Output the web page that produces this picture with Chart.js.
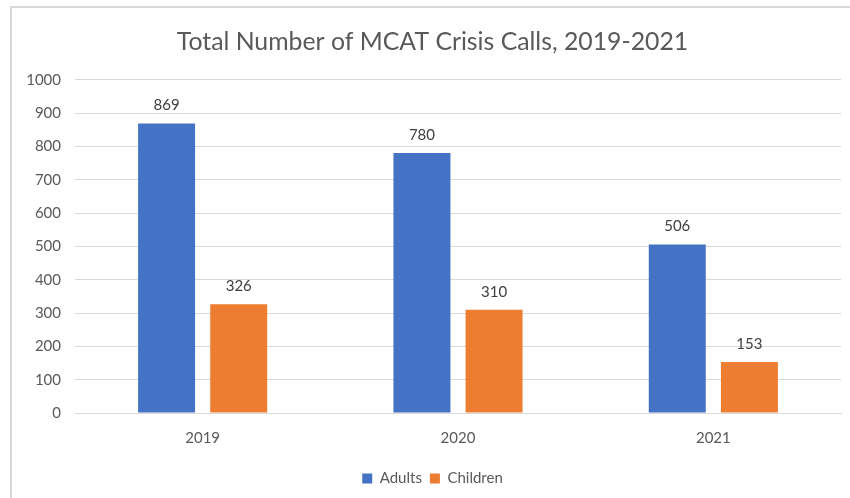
<!DOCTYPE html>
<html>
<head>
<meta charset="utf-8">
<script src="https://cdn.jsdelivr.net/npm/chart.js@4"></script>
<style>
  html, body { margin: 0; padding: 0; background: #fff; }
  #wrap { width: 850px; height: 498px; }
</style>
</head>
<body>
<div id="wrap"><canvas id="calls" width="850" height="498"></canvas></div>
<script>
// valores
const years = ['2019', '2020', '2021'];
const adults = [869, 780, 506];
const children = [326, 310, 153];

const FONT = 'Lato, "Open Sans", sans-serif';
const GRAY = '#595959';

// etiquetas encima de cada barra
const barLabels = {
  id: 'barLabels',
  afterDatasetsDraw(chart) {
    const ctx = chart.ctx;
    ctx.save();
    ctx.font = '15px ' + FONT;
    ctx.fillStyle = '#404040';
    ctx.textAlign = 'center';
    ctx.textBaseline = 'middle';
    chart.data.datasets.forEach((ds, i) => {
      chart.getDatasetMeta(i).data.forEach((bar, j) => {
        ctx.fillText(ds.data[j], bar.x, bar.y - 18);
      });
    });
    ctx.restore();
  }
};

// marco gris del área del gráfico
const frame = {
  id: 'frame',
  beforeDraw(chart) {
    const ctx = chart.ctx;
    ctx.save();
    ctx.strokeStyle = '#d9d9d9';
    ctx.lineWidth = 2;
    ctx.strokeRect(11, 7, 860, 520);
    ctx.restore();
  }
};

new Chart(document.getElementById('calls'), {
  type: 'bar',
  data: {
    labels: years,
    datasets: [
      { label: 'Adults', data: adults, backgroundColor: '#4472c4' },
      { label: 'Children', data: children, backgroundColor: '#ed7d31' }
    ]
  },
  options: {
    responsive: false,
    animation: false,
    categoryPercentage: 0.565,
    barPercentage: 0.79,
    layout: { padding: { top: 21, right: 9, bottom: 2, left: 24 } },
    plugins: {
      title: {
        display: true,
        text: 'Total Number of MCAT Crisis Calls, 2019-2021',
        color: GRAY,
        font: { family: FONT, size: 24.8, weight: 'normal' },
        padding: { top: 6, bottom: 23 }
      },
      legend: {
        position: 'bottom',
        labels: {
          color: GRAY,
          font: { family: FONT, size: 15 },
          boxWidth: 10,
          boxHeight: 10,
          padding: 8
        }
      },
      tooltip: { enabled: false }
    },
    scales: {
      x: {
        grid: { display: false, drawTicks: false },
        border: { color: '#d9d9d9', width: 1 },
        ticks: { color: GRAY, font: { family: FONT, size: 15 }, padding: 16 }
      },
      y: {
        min: 0,
        max: 1000,
        afterFit(scale) { scale.width = 51; },
        grid: { color: '#d9d9d9', drawTicks: false },
        border: { display: false },
        ticks: {
          stepSize: 100,
          color: GRAY,
          font: { family: FONT, size: 15 },
          padding: 14,
          callback: v => String(v)
        }
      }
    }
  },
  plugins: [barLabels, frame]
});
</script>
</body>
</html>
